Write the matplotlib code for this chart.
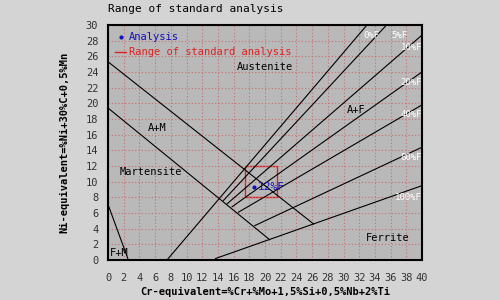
import matplotlib
matplotlib.use("Agg")
import matplotlib.pyplot as plt
from matplotlib.patches import Rectangle

plt.rcParams['font.family'] = ['DejaVu Sans Mono']

# phase boundary lines (Cr-eq, Ni-eq) end points
boundaries = {
    'A/A+M': [(0, 25.3), (26.2, 4.6)],
    'A+M/M': [(0, 19.4), (20.6, 2.6)],
    'M/F+M': [(0, 7.1), (2.6, 0)],
}
ferrite_lines = {
    '0%F': [(7.5, 0), (33.0, 30)],
    '5%F': [(14.7, 7.6), (35.5, 30)],
    '10%F': [(15.2, 7.2), (40, 28.7)],
    '20%F': [(15.8, 6.8), (40, 24.0)],
    '40%F': [(16.6, 6.1), (40, 19.8)],
    '80%F': [(18.7, 4.4), (40, 14.4)],
    '100%F': [(13.7, 0.2), (40, 9.5)],
}
ferrite_label_pos = {
    '0%F': (34.6, 28.7), '5%F': (38.2, 28.7), '10%F': (40, 27.1),
    '20%F': (40, 22.6), '40%F': (40, 18.6), '80%F': (40, 13.1),
    '100%F': (40, 8.0),
}
regions = [('Austenite', 16.4, 24.6), ('A+M', 5.1, 16.9), ('Martensite', 1.5, 11.2),
           ('A+F', 30.4, 19.2), ('F+M', 0.3, 0.9), ('Ferrite', 32.9, 2.8)]

# standard analysis range and the measured point
std_cr = (17.5, 21.5)
std_ni = (8.0, 12.0)
analysis_cr = 18.6
analysis_ni = 9.3
analysis_label = '12%F'

fig = plt.figure(figsize=(5, 3), dpi=100, facecolor='#d4d4d4')
ax = fig.add_axes([0.216, 0.133, 0.628, 0.784])
ax.set_facecolor('#b9b9b9')
ax.set_xlim(0, 40)
ax.set_ylim(0, 30)
ax.set_xticks(range(0, 41, 2))
ax.set_yticks(range(0, 31, 2))
ax.tick_params(length=0, labelsize=7.5, labelcolor='#333333')
ax.tick_params(axis='x', pad=9)
ax.tick_params(axis='y', pad=7)
ax.grid(True, color='#c87070', linestyle=(0, (1, 2)), linewidth=0.8)
for s in ax.spines.values():
    s.set_linewidth(1.5)

for pts in list(boundaries.values()) + list(ferrite_lines.values()):
    (x0, y0), (x1, y1) = pts
    ax.plot([x0, x1], [y0, y1], color='black', linewidth=0.8)

for name, (x, y) in ferrite_label_pos.items():
    ax.text(x, y, name, color='white', fontsize=6.5, ha='right', va='center')

for name, x, y in regions:
    ax.text(x, y, name, color='black', fontsize=7.5, ha='left', va='center')

ax.add_patch(Rectangle((std_cr[0], std_ni[0]), std_cr[1] - std_cr[0], std_ni[1] - std_ni[0],
                       fill=False, edgecolor='#e02020', linewidth=1.0))
ax.plot([analysis_cr], [analysis_ni], marker='.', color='#1010c0', markersize=4, linestyle='none')
ax.text(analysis_cr + 0.5, analysis_ni, analysis_label, color='#1010c0', fontsize=8, va='center')

ax.plot([], [], marker='.', color='#1010c0', linestyle='none', markersize=4, label='Analysis')
ax.plot([], [], color='#e02020', linewidth=1, label='Range of standard analysis')
leg = ax.legend(loc='upper left', frameon=False, fontsize=7.5, handlelength=1, handletextpad=0.3,
                borderaxespad=0.3, labelspacing=0.5)
leg.get_texts()[0].set_color('#1010c0')
leg.get_texts()[1].set_color('#e02020')

fig.text(0.216, 0.985, 'Range of standard analysis', fontsize=8, va='top', ha='left')
ax.set_xlabel('Cr-equivalent=%Cr+%Mo+1,5%Si+0,5%Nb+2%Ti', fontsize=7.5, fontweight='bold', labelpad=3)
ax.set_ylabel('Ni-equivalent=%Ni+30%C+0,5%Mn', fontsize=7.5, fontweight='bold', labelpad=12)

fig.savefig('out.png', dpi=100, facecolor=fig.get_facecolor())
